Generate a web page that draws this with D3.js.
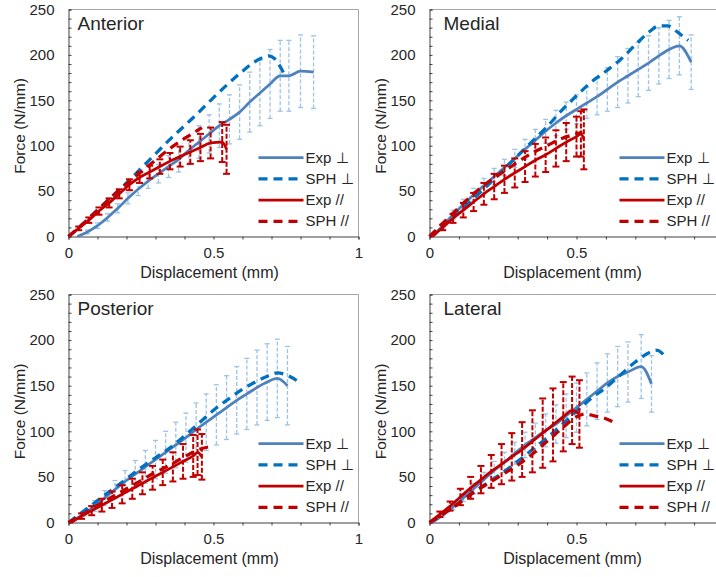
<!DOCTYPE html>
<html>
<head>
<meta charset="utf-8">
<script src="https://cdn.jsdelivr.net/npm/d3@7"></script>
<style>
  body { margin: 0; background: #fff; }
  svg { display: block; font-family: "Liberation Sans", Arial, sans-serif; }
</style>
</head>
<body>
<svg id="chart" width="716" height="577"></svg>
<script>
const panelNames = ['Anterior', 'Medial', 'Posterior', 'Lateral'];
const seriesNames = ['Exp ⊥', 'SPH ⊥', 'Exp //', 'SPH //'];
const yTicks = [0, 50, 100, 150, 200, 250];
const xTicks = [0, 0.5, 1];

// Exp series: [displacement, force, sd]; SPH series: [displacement, force]
const antExpPerp = [[0.03,0,0],[0.065,5,2],[0.1,12,3],[0.135,21,4],[0.17,31,5],[0.205,42,6],[0.24,52,7],[0.275,61,8],[0.31,69,10],[0.345,77,12],[0.38,85,14],[0.415,95,16],[0.45,104,18],[0.485,113,21],[0.52,122,24],[0.555,129,27],[0.59,137,30],[0.625,148,33],[0.66,158,36],[0.695,168,38],[0.73,177,39],[0.76,177,39],[0.8,182,40],[0.845,181,40]];
const antSphPerp = [[0,0],[0.05,14],[0.1,29],[0.15,44],[0.2,59],[0.25,75],[0.3,91],[0.35,107],[0.4,122],[0.45,137],[0.5,153],[0.55,168],[0.6,182],[0.64,192],[0.67,197],[0.69,199],[0.71,196],[0.73,187],[0.745,178]];
const antExpPar = [[0,0,0],[0.035,9,2],[0.07,18,3],[0.105,28,4],[0.14,37,5],[0.175,47,5],[0.21,57,6],[0.245,65,6],[0.28,71,7],[0.315,77,8],[0.35,83,9],[0.385,88,11],[0.42,93,13],[0.455,98,15],[0.49,103,17],[0.53,104,22],[0.545,96,27]];
const antSphPar = [[0,0],[0.05,14],[0.1,29],[0.15,44],[0.2,58],[0.25,71],[0.3,84],[0.35,97],[0.4,108],[0.43,114],[0.46,120]];

const medExpPerp = [[0.01,0,0],[0.045,12,3],[0.08,24,5],[0.115,35,6],[0.15,46,7],[0.185,56,8],[0.22,66,9],[0.255,76,9],[0.29,86,10],[0.325,96,11],[0.36,106,12],[0.395,116,13],[0.43,125,14],[0.465,133,15],[0.5,140,16],[0.535,147,17],[0.57,154,20],[0.605,162,24],[0.64,170,28],[0.675,177,30],[0.71,184,30],[0.745,191,30],[0.78,199,31],[0.815,206,32],[0.85,210,32],[0.89,192,30]];
const medSphPerp = [[0,0],[0.05,13],[0.1,27],[0.15,42],[0.2,57],[0.25,73],[0.3,89],[0.35,105],[0.4,121],[0.45,139],[0.5,155],[0.55,170],[0.6,182],[0.65,195],[0.7,211],[0.75,226],[0.78,232],[0.81,232],[0.84,226],[0.86,221],[0.88,216]];
const medExpPar = [[0.01,0,0],[0.045,10,3],[0.08,20,5],[0.115,29,8],[0.15,38,10],[0.185,47,12],[0.22,55,14],[0.255,63,15],[0.29,70,16],[0.325,77,17],[0.36,84,18],[0.395,90,19],[0.43,97,20],[0.465,104,21],[0.5,110,22],[0.515,113,25],[0.525,107,33]];
const medSphPar = [[0,0],[0.05,16],[0.1,32],[0.15,47],[0.2,60],[0.25,71],[0.3,82],[0.35,92],[0.4,100],[0.45,108],[0.5,113],[0.52,115]];

const postExpPerp = [[0.02,3,1],[0.055,10,3],[0.09,18,6],[0.125,27,8],[0.16,36,10],[0.195,45,12],[0.23,53,15],[0.265,61,18],[0.3,69,21],[0.335,77,23],[0.37,85,25],[0.405,93,27],[0.44,102,29],[0.475,110,31],[0.51,118,33],[0.545,126,35],[0.58,134,37],[0.615,141,39],[0.65,148,41],[0.685,154,42],[0.72,158,43],[0.755,150,43]];
const postSphPerp = [[0,0],[0.05,12],[0.1,24],[0.15,36],[0.2,48],[0.25,60],[0.3,71],[0.35,82],[0.4,95],[0.45,109],[0.5,123],[0.55,135],[0.6,146],[0.65,155],[0.69,161],[0.72,164],[0.75,162],[0.77,159],[0.79,155]];
const postExpPar = [[0.01,0,0],[0.045,7,3],[0.08,13,5],[0.115,19,7],[0.15,25,9],[0.185,31,10],[0.22,37,11],[0.255,43,12],[0.29,49,13],[0.325,55,14],[0.36,61,16],[0.395,67,19],[0.43,73,23],[0.445,77,25],[0.46,72,25]];
const postSphPar = [[0,0],[0.05,9],[0.1,19],[0.15,28],[0.2,37],[0.25,46],[0.3,55],[0.35,63],[0.4,72],[0.45,80],[0.5,84]];

const latExpPerp = [[0.01,0,0],[0.045,8,2],[0.08,17,3],[0.115,27,4],[0.15,37,6],[0.185,47,8],[0.22,57,10],[0.255,66,11],[0.29,76,12],[0.325,85,14],[0.36,93,16],[0.395,101,18],[0.43,108,21],[0.465,117,24],[0.5,126,27],[0.535,135,29],[0.57,144,31],[0.605,153,32],[0.64,160,33],[0.675,165,33],[0.72,171,35],[0.755,152,31]];
const latSphPerp = [[0,0],[0.05,10],[0.1,21],[0.15,33],[0.2,44],[0.25,55],[0.3,67],[0.35,80],[0.4,93],[0.45,107],[0.5,122],[0.55,136],[0.6,148],[0.65,162],[0.7,176],[0.74,185],[0.77,189],[0.79,186],[0.8,180]];
const latExpPar = [[0,0,0],[0.035,9,3],[0.07,18,5],[0.105,28,9],[0.14,38,12],[0.175,47,15],[0.21,56,18],[0.245,64,22],[0.28,72,26],[0.315,80,30],[0.35,89,34],[0.385,98,38],[0.42,107,40],[0.455,116,38],[0.485,123,37],[0.51,119,37]];
const latSphPar = [[0,0],[0.05,10],[0.1,21],[0.15,33],[0.2,43],[0.25,53],[0.3,63],[0.35,75],[0.4,89],[0.45,103],[0.5,116],[0.53,119],[0.56,117],[0.59,115],[0.62,111],[0.64,108]];

const panelData = [
  [antExpPerp, antSphPerp, antExpPar, antSphPar],
  [medExpPerp, medSphPerp, medExpPar, medSphPar],
  [postExpPerp, postSphPerp, postExpPar, postSphPar],
  [latExpPerp, latSphPerp, latExpPar, latSphPar]
];

const W = 716;

// panel geometry (pixels)
const panels = [
  { x0: 68.5, width: 290, top: 9.5, bottom: 236.5, titleDx: 9 },
  { x0: 429.5, width: 294, top: 9.5, bottom: 236.5, titleDx: 14 },
  { x0: 68.5, width: 290, top: 294.5, bottom: 522.5, titleDx: 9 },
  { x0: 429.5, width: 294, top: 294.5, bottom: 522.5, titleDx: 14 }
];

const styles = [
  { color: '#4f81bd', width: 2.75, dash: null },
  { color: '#0070c0', width: 3.25, dash: '9,6' },
  { color: '#c00000', width: 2.75, dash: null },
  { color: '#c00000', width: 3.25, dash: '9,6' }
];
const barStyles = {
  0: { color: '#9dc3e6', width: 1.3, dash: '4,2', cap: 2.5, capWidth: 1.3 },
  2: { color: '#c00000', width: 2, dash: '5,2', cap: 3.5, capWidth: 2 }
};

const textColor = '#262626';
const svg = d3.select('#chart');

let drawPanel = (p, name, data) => {
  const g = svg.append('g');
  const x = d3.scaleLinear().domain([0, 1]).range([p.x0, p.x0 + p.width]);
  const y = d3.scaleLinear().domain([0, 250]).range([p.bottom, p.top]);

  // plot area border (top and right)
  g.append('path')
    .attr('d', `M${x(0)},${y(250)}H${x(1)}V${y(0)}`)
    .attr('fill', 'none')
    .attr('stroke', '#a6a6a6')
    .attr('stroke-width', 1);

  // y axis: minor ticks inside, labels outside
  const yMinor = g.append('g')
    .attr('transform', `translate(${x(0)},0)`)
    .call(d3.axisLeft(y).tickValues(d3.range(0, 251, 10)).tickSize(-3).tickFormat(''));
  const yLab = g.append('g')
    .attr('transform', `translate(${x(0)},0)`)
    .call(d3.axisLeft(y).tickValues(yTicks).tickSize(0).tickPadding(14));
  yLab.select('.domain').remove();

  // x axis (labels only where they fit on the page)
  const xMinor = g.append('g')
    .attr('transform', `translate(0,${y(0)})`)
    .call(d3.axisBottom(x).tickValues(d3.range(0, 1.001, 0.1)).tickSize(3).tickFormat(''));
  const xLab = g.append('g')
    .attr('transform', `translate(0,${y(0)})`)
    .call(d3.axisBottom(x).tickValues(xTicks.filter(t => x(t) < W - 4))
      .tickSize(0).tickPadding(11).tickFormat(d => String(d)));
  xLab.select('.domain').remove();

  [yMinor, xMinor].forEach(a => {
    a.select('.domain').attr('stroke', '#404040');
    a.selectAll('.tick line').attr('stroke', '#404040');
  });
  [yLab, xLab].forEach(a => {
    a.selectAll('text').attr('font-size', 15).attr('fill', textColor)
      .attr('font-family', '"Liberation Sans", Arial, sans-serif');
  });

  // axis titles
  g.append('text')
    .attr('x', x(0.5) - 4)
    .attr('y', y(0) + 41)
    .attr('text-anchor', 'middle')
    .attr('font-size', 16)
    .attr('fill', textColor)
    .text('Displacement (mm)');
  g.append('text')
    .attr('transform', `translate(${x(0) - 44},${(y(0) + y(250)) / 2 + 3}) rotate(-90)`)
    .attr('text-anchor', 'middle')
    .attr('font-size', 15.5)
    .attr('fill', textColor)
    .text('Force (N/mm)');

  // panel title
  g.append('text')
    .attr('x', x(0) + p.titleDx)
    .attr('y', y(250) + 20)
    .attr('font-size', 19)
    .attr('fill', textColor)
    .text(name);

  const line = d3.line()
    .x(d => x(d[0]))
    .y(d => y(d[1]))
    .curve(d3.curveMonotoneX);

  const drawBars = (series, bs) => {
    const pts = series.filter(d => d[2] > 0);
    const bars = g.append('g');
    bars.selectAll('line.bar')
      .data(pts)
      .enter()
      .append('line')
      .attr('class', 'bar')
      .attr('x1', d => x(d[0]))
      .attr('x2', d => x(d[0]))
      .attr('y1', d => y(d[1] - d[2]))
      .attr('y2', d => y(d[1] + d[2]))
      .attr('stroke', bs.color)
      .attr('stroke-width', bs.width)
      .attr('stroke-dasharray', bs.dash);
    const caps = pts.flatMap(d => [[d[0], d[1] - d[2]], [d[0], d[1] + d[2]]]);
    bars.selectAll('line.cap')
      .data(caps)
      .enter()
      .append('line')
      .attr('class', 'cap')
      .attr('x1', d => x(d[0]) - bs.cap)
      .attr('x2', d => x(d[0]) + bs.cap)
      .attr('y1', d => y(d[1]))
      .attr('y2', d => y(d[1]))
      .attr('stroke', bs.color)
      .attr('stroke-width', bs.capWidth);
  };

  const drawLine = (series, st) => {
    g.append('path')
      .datum(series)
      .attr('d', line)
      .attr('fill', 'none')
      .attr('stroke', st.color)
      .attr('stroke-width', st.width)
      .attr('stroke-dasharray', st.dash)
      .attr('stroke-linejoin', 'round');
  };

  drawBars(data[0], barStyles[0]);
  drawLine(data[0], styles[0]);
  drawLine(data[1], styles[1]);
  drawBars(data[2], barStyles[2]);
  drawLine(data[2], styles[2]);
  drawLine(data[3], styles[3]);

  // legend
  const lg = g.append('g');
  seriesNames.forEach((s, i) => {
    const ly = y(0) - 79 + i * 21.3;
    lg.append('line')
      .attr('x1', x(0) + 190)
      .attr('x2', x(0) + 235)
      .attr('y1', ly)
      .attr('y2', ly)
      .attr('stroke', styles[i].color)
      .attr('stroke-width', styles[i].width)
      .attr('stroke-dasharray', styles[i].dash);
    lg.append('text')
      .attr('x', x(0) + 237)
      .attr('y', ly + 5)
      .attr('font-size', 15)
      .attr('fill', textColor)
      .text(s);
  });
};

panels.forEach((p, i) => drawPanel(p, panelNames[i], panelData[i]));
</script>
</body>
</html>
